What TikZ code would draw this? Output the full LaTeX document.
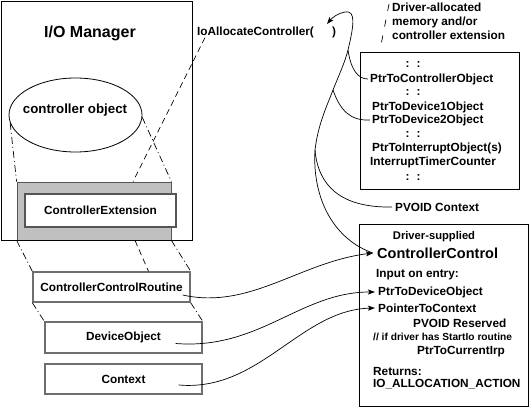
\documentclass[tikz,border=0pt]{standalone}
\definecolor{boxgray}{RGB}{192,192,192}
\definecolor{edgegray}{RGB}{85,85,85}
\definecolor{linegray}{RGB}{110,110,110}
\usepackage{fontspec}
\setmainfont{Liberation Sans}
\usepackage{tikz}
\usetikzlibrary{
	arrows.meta,
	positioning,
	shapes.geometric,
	calc
}
\tikzset{
  % arrow
	cstra/.style      ={-{Stealth[length=7pt,width=5pt,inset=1.5pt]}}, % right arrow
  % curve
	cstcurve/.style   ={line width=0.7pt}, % connector
	cstdash/.style    ={line width=0.7pt, dash pattern=on 6pt off 4pt}, % dashed
	cstdashdot/.style ={line width=0.7pt, dash pattern=on 7pt off 3pt on 1pt off 3pt}, % dash-dot
	cstslash/.style   ={line width=0.7pt, dash pattern=on 7pt off 9pt},
  % text
	csttext/.style    ={font=\bfseries\fontsize{11.8}{14}\selectfont, inner sep=0pt},
	cstlabel/.style   ={csttext, anchor=west},
	cstbig/.style     ={font=\bfseries\fontsize{14.5}{16}\selectfont},
	cstsmall/.style   ={font=\bfseries\fontsize{10.2}{11}\selectfont},
  % node
	cstbox/.style     ={draw=black, line width=0.8pt, inner sep=0pt},
	cstfill/.style    ={fill=boxgray, draw=edgegray, line width=0.8pt, inner sep=0pt},
	cstextbox/.style  ={csttext, fill=white, draw=edgegray, line width=1.2pt},
	cstgbox/.style    ={csttext, fill=white, draw=linegray, line width=1.4pt}
}
\begin{document}
\begin{tikzpicture}[x=1pt,y=-1pt]
	\useasboundingbox (0,0) rectangle (529,409);
	% I/O Manager
	\node[cstfill,minimum width=154,minimum height=58] (extarea) at (94,211) {};
	\node[cstextbox,minimum width=151,minimum height=33] (ctrlext) at (100.5,210.5) {ControllerExtension};
	\node[cstbox,minimum width=191,minimum height=239] (mgr) at (96.5,120.5) {};
	\node[csttext,font=\bfseries\fontsize{16}{18}\selectfont] (mgrtitle) at (90,33) {I/O Manager};
	\node[ellipse,draw,line width=0.8pt,minimum width=133,minimum height=74] (ctrlobj) at (75.5,115) {};
	\node[csttext,font=\bfseries\fontsize{13.3}{15}\selectfont] (ctrlobjtext) at (75,110) {controller object};
	% driver boxes
	\node[cstgbox,minimum width=157,minimum height=30] (routine) at (111.5,287) {ControllerControlRoutine};
	\node[cstgbox,minimum width=157,minimum height=31] (devobj) at (123.5,337.5) {DeviceObject};
	\node[cstgbox,minimum width=157,minimum height=30] (context) at (123.5,379) {Context};
	% IoAllocateController
	\node[cstlabel] (ioalloc) at (197,32) {IoAllocateController(};
	\node[csttext] (iopar) at (334,32) {)};
	\coordinate (iotip) at (327,24);
	% controller extension
	\node[csttext,anchor=north west,align=left] (drvlabel) at (392,3) {Driver-allocated\\memory and/or\\controller extension};
	\node[cstbox,minimum width=159,minimum height=137] (membox) at (439.5,120.5) {};
	\foreach \y in {65,93,135,178}
		\node[csttext] (colon\y) at (413,\y) {:\hspace{7pt}:};
	\node[cstlabel] (ptrctrl) at (370,79) {PtrToControllerObject};
	\node[cstlabel] (ptrdev1) at (372,107) {PtrToDevice1Object};
	\node[cstlabel] (ptrdev2) at (372,120) {PtrToDevice2Object};
	\node[cstlabel] (ptrint) at (372,148) {PtrToInterruptObject(s)};
	\node[cstlabel] (inttimer) at (370,162) {InterruptTimerCounter};
	\node[cstlabel] (pvoidctx) at (395,207) {PVOID Context};
	% ControllerControl
	\node[cstbox,minimum width=169,minimum height=182] (ccbox) at (443.5,315) {};
	\node[csttext,font=\bfseries\fontsize{11.2}{13}\selectfont] (drvsup) at (434,237) {Driver-supplied};
	\node[cstlabel,cstbig] (cctitle) at (377,253) {ControllerControl};
	\node[cstlabel] (inentry) at (376,275) {Input on entry:};
	\node[cstlabel] (ptrdevobj) at (378,292) {PtrToDeviceObject};
	\node[cstlabel] (ptrctx) at (378,308) {PointerToContext};
	\node[cstlabel] (pvoidres) at (413,323) {PVOID Reserved};
	\node[cstlabel,cstsmall] (startio) at (373,337) {// if driver has StartIo routine};
	\node[cstlabel] (curirp) at (417,352) {PtrToCurrentIrp};
	\node[cstlabel] (returns) at (373,371) {Returns:};
	\node[cstlabel] (allocact) at (373,384) {IO\_ALLOCATION\_ACTION};
	% dashed lines
	\draw[cstdashdot] (ctrlobj.187) -- (extarea.north west);
	\draw[cstdashdot] (ctrlobj.-2) -- (extarea.north east);
	\draw[cstdash] ([xshift=8pt]ioalloc.south west) -- ([xshift=39pt]extarea.north);
	\draw[cstdashdot] (extarea.south west) -- (routine.north west);
	\draw[cstdash] ([xshift=41pt]extarea.south) -- ([xshift=37pt]routine.north);
	\draw[cstdashdot] (extarea.south east) -- (routine.north east);
	\draw[cstdashdot] (routine.south west) -- (devobj.north west);
	\draw[cstdashdot] (routine.south east) -- (devobj.north east);
	\draw[cstslash] ([xshift=-3pt,yshift=-1pt]drvlabel.north west) -- ([xshift=-59pt,yshift=4pt]membox.north);
	% curves
	\coordinate (jA) at (348,50);
	\coordinate (jB) at (333,90);
	\coordinate (jC) at (315,150);
	\draw[cstcurve,cstra] ([xshift=-4pt]cctitle.west) .. controls (335,240) and (312,200) .. (jC)
		.. controls (318,125) and (326,108) .. (jB)
		.. controls (339,75) and (345,62) .. (jA)
		.. controls (354,25) and (356,10) .. (345,12)
		.. controls (338,13) and (332,18) .. (iotip);
	\draw[cstcurve] (jA) .. controls (351,70) and (358,79) .. ([xshift=-2pt]ptrctrl.west);
	\draw[cstcurve] (jB) .. controls (340,110) and (350,121) .. ([xshift=-2pt]ptrdev2.west);
	\draw[cstcurve] (jC) .. controls (318,185) and (340,208) .. ([xshift=-3pt]pvoidctx.west);
	\draw[cstcurve,cstra] ([xshift=-8pt,yshift=-8pt]routine.east) .. controls (250,310) and (300,262) .. ([xshift=-4pt]cctitle.west);
	\draw[cstcurve,cstra] ([xshift=-27pt,yshift=-6pt]devobj.east) .. controls (260,350) and (300,292) .. ([xshift=-3pt]ptrdevobj.west);
	\draw[cstcurve,cstra] ([xshift=-24pt,yshift=-6pt]context.east) .. controls (260,392) and (300,310) .. ([xshift=-3pt]ptrctx.west);
\end{tikzpicture}
\end{document}
